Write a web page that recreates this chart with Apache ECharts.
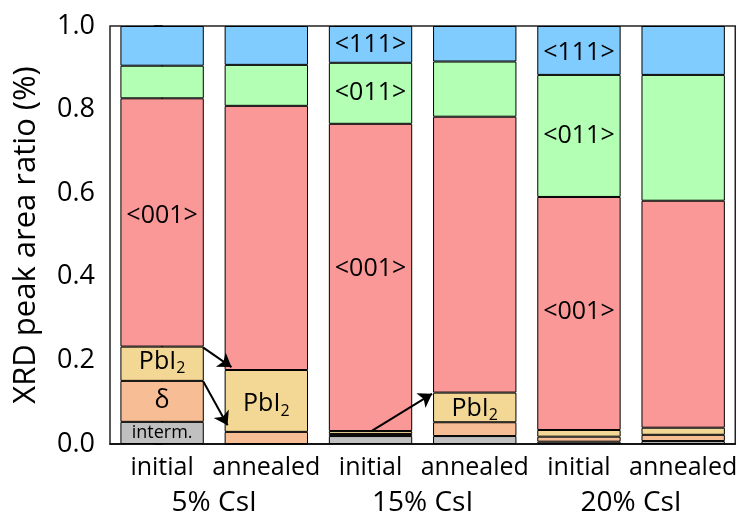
<!DOCTYPE html>
<html>
<head>
<meta charset="utf-8">
<script src="https://cdn.jsdelivr.net/npm/echarts@6/dist/echarts.min.js"></script>
<style>html,body{margin:0;padding:0;background:#fff}#c{width:740px;height:518px}</style>
</head>
<body>
<div id="c"></div>
<script>
const categories = ['initial', 'annealed', 'initial', 'annealed', 'initial', 'annealed'];
const groups = ['5% CsI', '15% CsI', '20% CsI'];
const yTicks = [0, 0.2, 0.4, 0.6, 0.8, 1.0];

const interm = [0.053, 0, 0.019, 0.019, 0.0055, 0.007];
const delta = [0.098, 0.029, 0.005, 0.033, 0.012, 0.015];
const pbi2 = [0.082, 0.148, 0.007, 0.071, 0.016, 0.017];
const o001 = [0.594, 0.632, 0.735, 0.660, 0.5575, 0.543];
const o011 = [0.078, 0.098, 0.146, 0.132, 0.292, 0.301];
const o111 = [0.095, 0.093, 0.088, 0.085, 0.117, 0.117];

// annotation arrows in data units (x = category position, y = ratio)
const arrows = [
  [[0.392, 0.231], [0.666, 0.184]],
  [[0.394, 0.150], [0.628, 0.045]],
  [[2.016, 0.032], [2.59, 0.120]]
];

// which bars carry text labels
const labelled = {
  interm: {0: 'interm.'},
  delta: {0: 'δ'},
  pbi2: {0: 'PbI{s|2}', 1: 'PbI{s|2}', 3: 'PbI{s|2}'},
  o001: {0: '<001>', 2: '<001>', 4: '<001>'},
  o011: {2: '<011>', 4: '<011>'},
  o111: {2: '<111>', 4: '<111>'}
};
const labelOffsets = { o001: {0: [0, -7], 2: [0, -9], 4: [0, -2]}, pbi2: {0: [0, -2], 1: [0, 3], 3: [0, 1]}, o111: {4: [0, 2]} };

const FONT = 'Open Sans';
const rich = {
  s: {fontSize: 16, fontFamily: FONT, color: '#000', padding: [14, 0, 0, 0]}
};

function mkSeries(key, name, values, color, fontSize) {
  return {
    name: name,
    type: 'bar',
    stack: 'all',
    barCategoryGap: '20%',
    xAxisIndex: 0,
    yAxisIndex: 0,
    itemStyle: {color: color, borderColor: '#000', borderWidth: 1},
    data: values.map((v, i) => {
      const d = {value: v};
      if (labelled[key] && labelled[key][i] !== undefined) {
        const txt = labelled[key][i];
        d.label = {
          show: true,
          position: 'inside',
          formatter: txt,
          color: '#000',
          fontSize: fontSize,
          fontFamily: FONT,
          offset: (labelOffsets[key] && labelOffsets[key][i]) || [0, 0],
          rich: rich
        };
      }
      return d;
    }),
    label: {show: false}
  };
}

const chart = echarts.init(document.getElementById('c'), null, {renderer: 'canvas'});
chart.setOption({
  animation: false,
  backgroundColor: '#fff',
  grid: {left: 110, right: 2, top: 26, bottom: 74, show: true, borderColor: '#222', borderWidth: 1.5, backgroundColor: 'transparent'},
  xAxis: [
    {
      type: 'category', data: categories, position: 'bottom',
      axisLine: {lineStyle: {color: '#000', width: 1.5}},
      axisTick: {alignWithLabel: true, length: 7, lineStyle: {color: '#000', width: 1.5}},
      axisLabel: {color: '#000', fontSize: 25, fontFamily: FONT, margin: 11, interval: 0, hideOverlap: false}
    },
    {type: 'value', min: -0.5, max: 5.5, show: false},
    {
      type: 'category', data: groups, position: 'bottom',
      axisLine: {show: false}, axisTick: {show: false},
      axisLabel: {color: '#000', fontSize: 28, fontFamily: FONT, margin: 45, interval: 0}
    }
  ],
  yAxis: [{
    type: 'value', min: 0, max: 1, interval: 0.2,
    name: 'XRD peak area ratio (%)', nameLocation: 'middle', nameGap: 68,
    nameTextStyle: {fontSize: 31, fontFamily: FONT, color: '#000'},
    axisLine: {show: true, lineStyle: {color: '#000', width: 1.5}},
    axisTick: {show: true, length: 8, lineStyle: {color: '#000', width: 1.5}},
    axisLabel: {color: '#000', fontSize: 27, fontFamily: FONT, margin: 15,
      formatter: v => (yTicks.indexOf(v) >= 0 ? v.toFixed(1) : '')},
    splitLine: {show: false}
  }],
  series: [
    mkSeries('interm', 'interm.', interm, '#c0c0c0', 18),
    mkSeries('delta', 'δ', delta, '#f7be95', 25),
    mkSeries('pbi2', 'PbI2', pbi2, '#f2d795', 25),
    mkSeries('o001', '<001>', o001, '#fa9898', 25),
    mkSeries('o011', '<011>', o011, '#b3ffb3', 25),
    mkSeries('o111', '<111>', o111, '#80ccff', 25),
    {
      type: 'lines', coordinateSystem: 'cartesian2d', xAxisIndex: 1, yAxisIndex: 0,
      symbol: ['none', 'arrow'], symbolSize: 13, z: 10, silent: true,
      lineStyle: {color: '#000', width: 2, opacity: 1, curveness: 0},
      data: arrows.map(a => ({coords: a}))
    }
  ]
});
</script>
</body>
</html>
